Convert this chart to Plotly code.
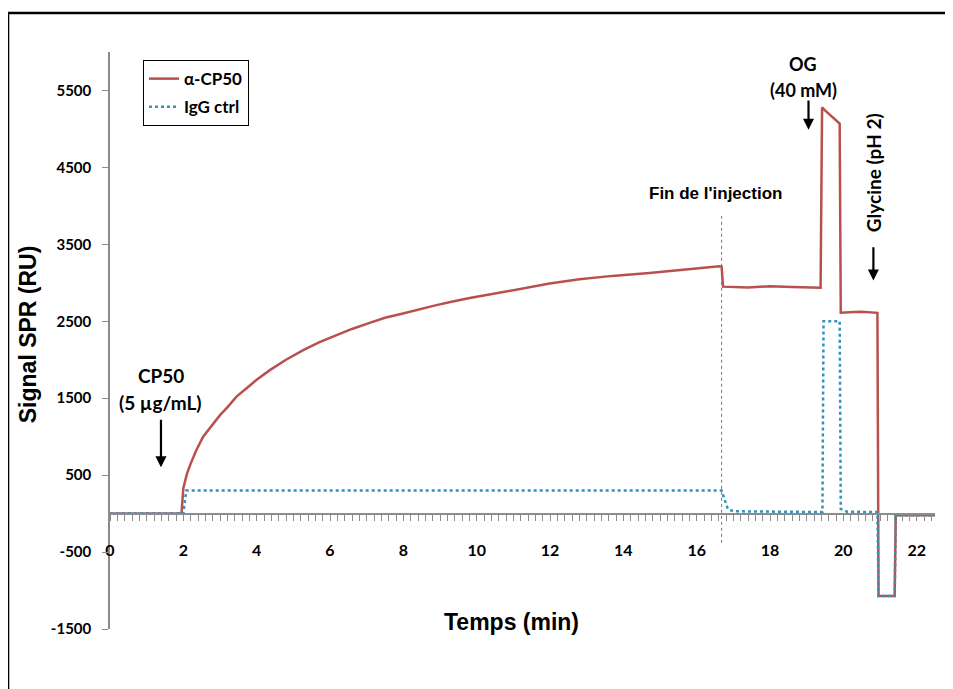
import plotly.graph_objects as go

# temps (min) / signal (RU)
t_cp50 = [0, 1.95, 2.0, 2.1, 2.2, 2.35, 2.54, 2.75, 3.0, 3.2, 3.45, 3.7, 4.0, 4.36,
          4.8, 5.27, 5.7, 6.18, 6.6, 7.08, 7.5, 7.99, 8.45, 8.9, 9.35, 9.81, 10.5,
          11.2, 11.99, 12.8, 13.7, 14.71, 15.6, 16.62, 16.68, 16.72, 17.4, 18.0,
          18.6, 19.38, 19.42, 19.5, 19.9, 19.93, 20.3, 20.5, 20.93, 20.96, 21.4,
          21.43, 22.5]
ru_cp50 = [0, 0, 330, 520, 650, 820, 1000, 1130, 1280, 1380, 1520, 1620, 1740, 1865,
           2000, 2125, 2225, 2320, 2400, 2480, 2545, 2600, 2660, 2710, 2758, 2803, 2860,
           2920, 2990, 3045, 3090, 3128, 3170, 3214, 3210, 2950, 2940, 2955,
           2945, 2935, 5280, 5240, 5070, 2610, 2620, 2625, 2610, -1070, -1070,
           -20, -20]

t_igg = [0, 2.0, 2.08, 16.68, 16.75, 16.85, 17.0, 19.43, 19.46, 19.9, 19.93, 20.1,
         20.93, 20.96, 21.4, 21.43, 22.5]
ru_igg = [0, 0, 300, 300, 200, 60, 30, 20, 2500, 2500, 60, 25,
          20, -1070, -1070, -20, -20]

y_ticks = [-1500, -500, 500, 1500, 2500, 3500, 4500, 5500]
y_ticktext = ["-1500", "-500", "500", "1500", "2500", "3500", "4500", "5500"]
x_ticks = [0, 2, 4, 6, 8, 10, 12, 14, 16, 18, 20, 22]

fin_injection = 16.68

red = "#B9504E"
blue = "#3591B8"
grey = "#8C8C8C"
tick_font = dict(family="Lato", size=15, color="black", weight="bold")

fig = go.Figure()
fig.add_trace(go.Scatter(x=t_cp50, y=ru_cp50, mode="lines", name="α-CP50",
                         legendgroup="a", line=dict(color=red, width=2.5)))
fig.add_trace(go.Scatter(x=t_igg, y=ru_igg, mode="lines", name="IgG ctrl",
                         legendgroup="b", line=dict(color=blue, width=2.5, dash="dot")))

# the page body has an 8px margin, so the figure is 8px smaller than the window
fig.update_layout(
    width=945, height=681,
    margin=dict(l=102, r=18, t=44, b=60),
    paper_bgcolor="white", plot_bgcolor="white",
    showlegend=True,
    legend=dict(x=0.04, y=0.986, xanchor="left", yanchor="top",
                bordercolor="black", borderwidth=1, bgcolor="white",
                font=dict(family="Lato", size=17, color="black", weight="bold"),
                tracegroupgap=3),
    xaxis=dict(range=[0, 22.5], anchor="free", position=0.2,
               tickvals=x_ticks, ticks="outside", ticklen=7, tickcolor=grey,
               showline=True, linecolor=grey, linewidth=1.5,
               showgrid=False, zeroline=False,
               tickfont=dict(family="Lato", size=16, color="black", weight="bold"),
               ticklabelstandoff=15,
               minor=dict(dtick=0.2, tick0=0, ticks="outside", ticklen=7,
                          tickcolor=grey, showgrid=False)),
    yaxis=dict(range=[-1500, 6000], tickvals=y_ticks, ticktext=y_ticktext,
               ticks="outside", ticklen=6, tickcolor=grey,
               showline=True, linecolor=grey, linewidth=1.5,
               showgrid=False, zeroline=False, tickfont=tick_font,
               ticklabelstandoff=8),
)

# end of injection marker
fig.add_shape(type="line", xref="x", yref="y", x0=fin_injection, x1=fin_injection,
              y0=-380, y1=3900, line=dict(color="#777777", width=1, dash="dot"))

# outer frame
fig.add_shape(type="line", xref="paper", yref="paper", x0=-0.1236, x1=-0.1236,
              y0=-0.11, y1=1.0676, line=dict(color="black", width=2.5))
fig.add_shape(type="line", xref="paper", yref="paper", x0=-0.1236, x1=1.03,
              y0=1.0676, y1=1.0676, line=dict(color="black", width=2.5))

lbl = dict(family="Lato", size=19, color="black", weight="bold")
og_font = dict(family="Lato", size=18, color="black", weight="bold")
arial = dict(family="Liberation Sans", size=23, color="black", weight="bold")

annos = [
    dict(x=1.39, y=1790, text="CP50", font=lbl),
    dict(x=1.39, y=1450, text="(5 µg/mL)", font=lbl),
    dict(x=1.39, y=604, ax=1.39, ay=1240, axref="x", ayref="y", text="",
         showarrow=True, arrowhead=2, arrowsize=1, arrowwidth=2.2, arrowcolor="black"),
    dict(x=18.9, y=5840, text="OG", font=og_font),
    dict(x=18.9, y=5510, text="(40 mM)", font=og_font),
    dict(x=19.05, y=4990, ax=19.05, ay=5390, axref="x", ayref="y", text="",
         showarrow=True, arrowhead=2, arrowsize=1, arrowwidth=2.2, arrowcolor="black"),
    dict(x=20.82, y=4430, text="Glycine (pH 2)", textangle=-90, font=lbl),
    dict(x=20.82, y=3030, ax=20.82, ay=3480, axref="x", ayref="y", text="",
         showarrow=True, arrowhead=2, arrowsize=1, arrowwidth=2.2, arrowcolor="black"),
    dict(x=16.5, y=4160, text="Fin de l'injection",
         font=dict(family="Liberation Sans", size=17, color="black", weight="bold")),
]
for a in annos:
    a.setdefault("showarrow", False)
    a.setdefault("xref", "x")
    a.setdefault("yref", "y")
    fig.add_annotation(**a)

fig.add_annotation(xref="paper", yref="paper", x=-0.1, y=0.51, xanchor="center",
                   yanchor="middle", text="Signal SPR (RU)", textangle=-90,
                   showarrow=False, font=arial)
fig.add_annotation(xref="paper", yref="paper", x=0.487, y=0.012, xanchor="center",
                   yanchor="middle", text="Temps (min)", showarrow=False, font=arial)

fig.write_html("out.html")
